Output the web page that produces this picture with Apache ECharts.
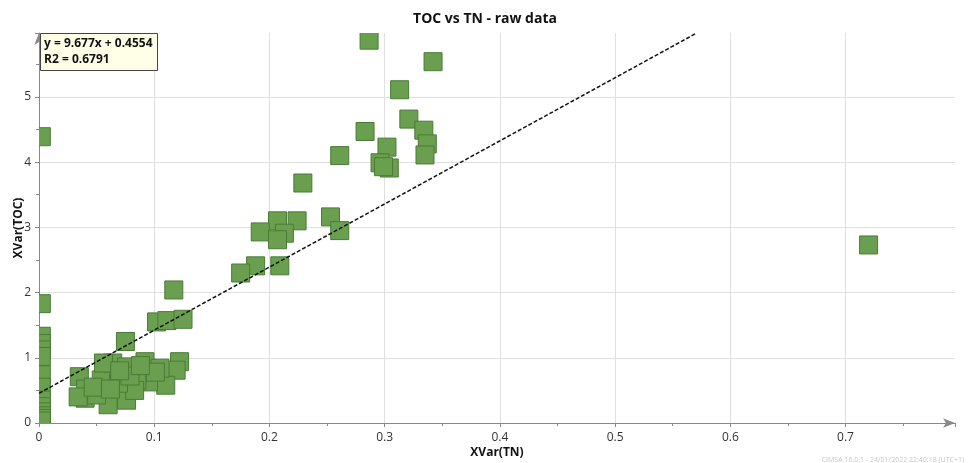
<!DOCTYPE html>
<html>
<head>
<meta charset="utf-8">
<script src="https://cdn.jsdelivr.net/npm/echarts@6/dist/echarts.min.js"></script>
<style>
  html, body {margin: 0; padding: 0; background: #fff;}
  #chart {width: 970px; height: 463px;}
</style>
</head>
<body>
<div id="chart"></div>
<script>
// raw samples: TN (x) and TOC (y)
var tnValues = [
  0.002, 0.002, 0.002, 0.002, 0.002, 0.002, 0.002, 0.002, 0.002, 0.002, 0.002, 0.002, 0.002, 0.002,
  0.2865, 0.342, 0.313, 0.321, 0.283, 0.334, 0.337, 0.302, 0.335, 0.261, 0.296, 0.304, 0.299,
  0.229, 0.253, 0.261, 0.224, 0.207, 0.192, 0.213, 0.207, 0.188, 0.209, 0.175, 0.117, 0.72,
  0.102, 0.111, 0.125, 0.075, 0.122, 0.119, 0.110, 0.0935, 0.092, 0.105, 0.095, 0.085,
  0.035, 0.040, 0.0405, 0.054, 0.064, 0.075, 0.066, 0.060, 0.076, 0.076, 0.083, 0.056,
  0.034, 0.050, 0.069, 0.079, 0.101, 0.088, 0.070, 0.047, 0.062
];
var tocValues = [
  4.39, 1.83, 1.33, 1.22, 1.12, 1.02, 0.74, 0.55, 0.35, 0.25, 0.17, 0.11, 0.07, 0.03,
  5.87, 5.54, 5.11, 4.66, 4.47, 4.49, 4.28, 4.23, 4.11, 4.10, 3.99, 3.91, 3.93,
  3.68, 3.16, 2.95, 3.10, 3.10, 2.93, 2.91, 2.81, 2.41, 2.41, 2.30, 2.04, 2.73,
  1.55, 1.57, 1.59, 1.25, 0.94, 0.81, 0.58, 0.84, 0.94, 0.84, 0.63, 0.66,
  0.71, 0.38, 0.52, 0.66, 0.92, 0.74, 0.48, 0.28, 0.35, 0.86, 0.50, 0.92,
  0.40, 0.43, 0.61, 0.72, 0.78, 0.88, 0.80, 0.55, 0.52
];

// linear fit reported by the source tool
var fitSlope = 9.677;
var fitIntercept = 0.4554;
var fitR2 = 0.6791;

var xMax = 0.795;
var yMax = 5.98;

var points = tnValues.map(function (v, i) { return [v, tocValues[i]]; });
var fitEndX = (yMax - fitIntercept) / fitSlope;
var fitLine = [[0, fitIntercept], [fitEndX, fitSlope * fitEndX + fitIntercept]];

var font = "'Open Sans', 'Noto Sans', sans-serif";
var markSize = 18;
var chart = echarts.init(document.getElementById('chart'));

// squares clipped to the plot area, like the source tool does
function renderSquare(params, api) {
  var c = api.coord([api.value(0), api.value(1)]);
  return {
    type: 'rect',
    shape: {x: c[0] - markSize / 2, y: c[1] - markSize / 2, width: markSize, height: markSize},
    style: {fill: '#6a9f4f', stroke: '#4b7a37', lineWidth: 1}
  };
}

chart.setOption({
  animation: false,
  textStyle: {fontFamily: font},
  title: [{
    text: 'TOC vs TN - raw data',
    left: 'center',
    top: 7,
    textStyle: {fontSize: 14, fontWeight: 'bold', color: '#111', fontFamily: font}
  }, {
    text: 'y = ' + fitSlope + 'x + ' + fitIntercept + '\nR2 = ' + fitR2,
    left: 40,
    top: 33,
    padding: [3, 5, 3, 4],
    backgroundColor: '#ffffe8',
    borderColor: '#444',
    borderWidth: 1,
    z: 10,
    textStyle: {fontSize: 12, fontWeight: 'bold', color: '#111', lineHeight: 16, fontFamily: font}
  }],
  grid: {left: 39, right: 15, top: 33, bottom: 40, containLabel: false, outerBoundsMode: 'none'},
  xAxis: {
    type: 'value',
    min: 0,
    max: xMax,
    interval: 0.1,
    name: 'XVar(TN)',
    nameLocation: 'middle',
    nameGap: 24,
    nameMoveOverlap: false,
    nameTextStyle: {fontSize: 12, fontWeight: 'bold', color: '#111'},
    axisLine: {show: true, symbol: ['none', 'arrow'], symbolSize: [7, 12], lineStyle: {color: '#888', width: 1}},
    axisTick: {show: true, length: 4, lineStyle: {color: '#888'}},
    minorTick: {show: true, splitNumber: 2, length: 3, lineStyle: {color: '#888'}},
    axisLabel: {fontSize: 12, color: '#333', margin: 9, showMaxLabel: false},
    splitLine: {show: true, showMinLine: false, showMaxLine: false, lineStyle: {color: '#e0e0e0'}}
  },
  yAxis: {
    type: 'value',
    min: 0,
    max: yMax,
    interval: 1,
    name: 'XVar(TOC)',
    nameLocation: 'middle',
    nameGap: 14,
    nameMoveOverlap: false,
    nameTextStyle: {fontSize: 12, fontWeight: 'bold', color: '#111'},
    axisLine: {show: true, symbol: ['none', 'arrow'], symbolSize: [7, 12], lineStyle: {color: '#888', width: 1}},
    axisTick: {show: true, length: 4, lineStyle: {color: '#888'}},
    minorTick: {show: true, splitNumber: 2, length: 3, lineStyle: {color: '#888'}},
    axisLabel: {fontSize: 12, color: '#333', margin: 8, showMaxLabel: false},
    splitLine: {show: true, showMinLine: false, showMaxLine: false, lineStyle: {color: '#e0e0e0'}}
  },
  graphic: [{
    type: 'text',
    right: 6,
    bottom: 0,
    style: {text: 'CIMSA 16.0.1 - 24/01/2022 22:40:18 (UTC+1)', fill: '#c8c8c8', fontSize: 7, fontFamily: font}
  }],
  series: [{
    type: 'custom',
    data: points,
    clip: true,
    renderItem: renderSquare,
    encode: {x: 0, y: 1}
  }, {
    type: 'line',
    data: fitLine,
    symbol: 'none',
    z: 5,
    lineStyle: {color: '#111', width: 1.5, type: [4, 2]}
  }]
});
</script>
</body>
</html>
